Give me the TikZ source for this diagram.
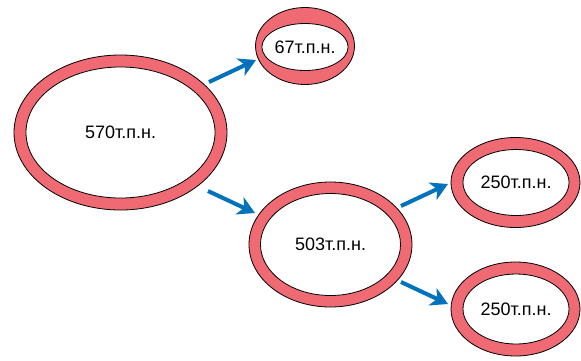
\documentclass[tikz,border=0pt]{standalone}
\usepackage{fontspec}
\setmainfont{Liberation Sans}
\usetikzlibrary{shapes.geometric,arrows.meta}
\definecolor{ringpink}{RGB}{240,106,116}
\definecolor{arrowblue}{RGB}{0,114,188}
\tikzset{
  ring/.style={ellipse, draw=black, line width=0.8pt, fill=ringpink, inner sep=0pt},
  hole/.style={ellipse, draw=black, line width=0.8pt, fill=white, inner sep=0pt, font=\fontsize{18}{21}\selectfont},
  flow/.style={draw=arrowblue, line width=4pt, -{Stealth[length=17pt,width=19pt,inset=5pt]}}
}
\begin{document}
\begin{tikzpicture}[x=1pt,y=-1pt]
\useasboundingbox (0,0) rectangle (581,360);
% big
\node[ring, minimum width=213pt, minimum height=155pt] (bigR) at (120.5,132.5) {};
\node[hole, minimum width=189pt, minimum height=131pt] (big) at (120.5,132.5) {570т.п.н.};
% small top
\node[ring, minimum width=99pt, minimum height=77pt] (topR) at (305,46) {};
\node[hole, minimum width=73pt, minimum height=47pt] (top) at (305,47) {67т.п.н.};
% middle
\node[ring, minimum width=163pt, minimum height=125pt] (midR) at (330.5,244.5) {};
\node[hole, minimum width=140pt, minimum height=102pt] (mid) at (330.5,244.5) {503т.п.н.};
% right top
\node[ring, minimum width=129pt, minimum height=90pt] (rtR) at (515.5,182.5) {};
\node[hole, minimum width=106pt, minimum height=66pt] (rt) at (516,182.5) {250т.п.н.};
% right bottom
\node[ring, minimum width=129pt, minimum height=94pt] (rbR) at (515.5,309) {};
\node[hole, minimum width=106pt, minimum height=70pt] (rb) at (516,309) {250т.п.н.};
% arrow ends
\coordinate (a1s) at (209,82);
\coordinate (a1e) at (256,60);
\coordinate (a2s) at (208,191);
\coordinate (a2e) at (255,213);
\coordinate (a3s) at (401,206);
\coordinate (a3e) at (448,184);
\coordinate (a4s) at (401,282);
\coordinate (a4e) at (448,304);
\draw[flow] (a1s) -- (a1e);
\draw[flow] (a2s) -- (a2e);
\draw[flow] (a3s) -- (a3e);
\draw[flow] (a4s) -- (a4e);
\end{tikzpicture}
\end{document}
